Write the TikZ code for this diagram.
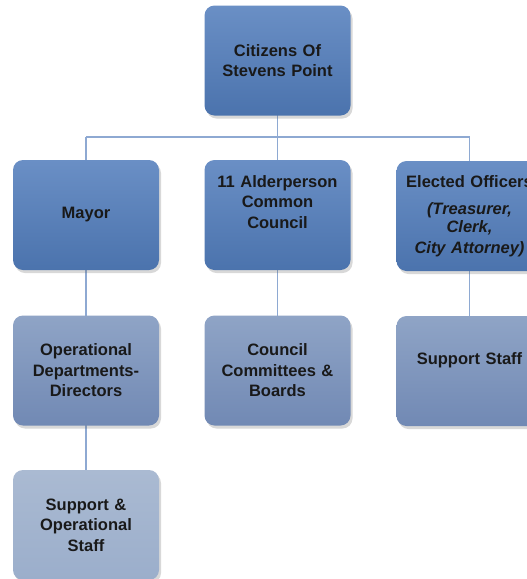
\documentclass[tikz,border=0pt]{standalone}
\usepackage{fontspec}
\setmainfont{Liberation Sans}[WordSpace=0.8]
\usetikzlibrary{shadows}
\definecolor{lineblue}{HTML}{8EA9D2}
\definecolor{lvAtop}{HTML}{6A8FC5}
\definecolor{lvAbot}{HTML}{4B73AD}
\definecolor{lvCtop}{HTML}{8FA4C6}
\definecolor{lvCbot}{HTML}{7189B4}
\definecolor{lvDtop}{HTML}{AABAD2}
\definecolor{lvDbot}{HTML}{9BAECB}
\tikzset{
  x=1pt,y=1pt,
  orgbox/.style={rectangle, rounded corners=10pt, minimum width=146pt, minimum height=110pt,
    inner sep=2pt, align=center, text width=140pt, text=black!90,
    font=\fontsize{16.5}{20.5}\selectfont\bfseries,
    drop shadow={shadow xshift=2pt, shadow yshift=-3pt, opacity=0.25, fill=black!60}},
  lvA/.style={orgbox, top color=lvAtop, bottom color=lvAbot},
  lvC/.style={orgbox, top color=lvCtop, bottom color=lvCbot},
  lvD/.style={orgbox, top color=lvDtop, bottom color=lvDbot},
  conn/.style={draw=lineblue, line width=1.3pt}
}
\begin{document}
\begin{tikzpicture}
\useasboundingbox (0,0) rectangle (527,-579);
\clip (0,0) rectangle (527,-579);
\fill[white] (0,0) rectangle (527,-579);
% connectors first
\coordinate (hl) at (86,-137);
\coordinate (hm) at (277.5,-137);
\coordinate (hr) at (469.5,-137);
\draw[conn] (277.5,-60.5) -- (hm);
\draw[conn] (hl) -- (hr);
\draw[conn] (hl) -- (86,-215);
\draw[conn] (hm) -- (277.5,-215);
\draw[conn] (hr) -- (469.5,-215);
\draw[conn] (86,-215) -- (86,-525);
\draw[conn] (277.5,-215) -- (277.5,-370.5);
\draw[conn] (469.5,-215) -- (469.5,-370.5);
% boxes
\node[lvA] (top) at (277.5,-60.5) {Citizens Of\\Stevens Point};
\node[lvA] (mayor) at (86,-215) {Mayor};
\node[lvA] (council) at (277.5,-215) {11 Alderperson\\Common\\Council\\ \strut};
\node[lvA] (elected) at (469.5,-216) {Elected Officers\\[9pt]{\itshape\fontsize{16.5}{18}\selectfont (Treasurer,\\Clerk,\\City Attorney)}};
\node[lvC] (ops) at (86,-370.5) {Operational\\Departments-\\Directors};
\node[lvC] (committees) at (277.5,-370.5) {Council\\Committees \&\\Boards};
\node[lvC] (support) at (469.5,-371) {Support Staff\\[-2pt] \strut};
\node[lvD] (opstaff) at (86,-525) {Support \&\\Operational\\Staff};
\end{tikzpicture}
\end{document}
